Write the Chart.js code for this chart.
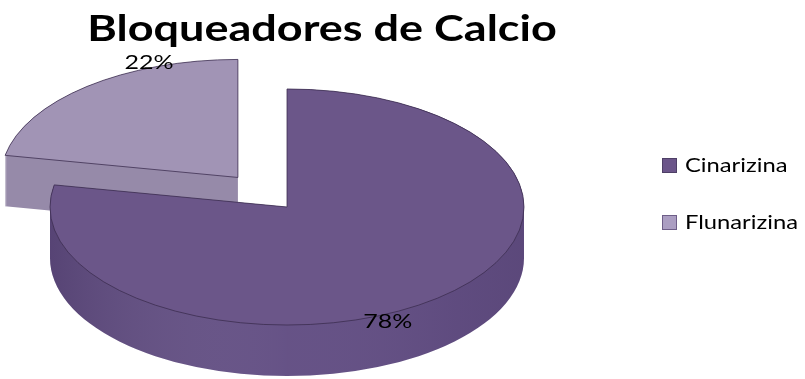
<!DOCTYPE html>
<html>
<head>
<meta charset="utf-8">
<script src="https://cdn.jsdelivr.net/npm/chart.js@4.4.1/dist/chart.umd.min.js"></script>
<style>
  html, body { margin: 0; padding: 0; background: #ffffff; }
  #wrap { width: 805px; height: 379px; position: relative; }
</style>
</head>
<body>
<div id="wrap"><canvas id="c" width="805" height="379"></canvas></div>
<script>
// ---- data ----
const chartTitle = 'Bloqueadores de Calcio';
const categories = ['Cinarizina', 'Flunarizina'];
const shares = [78, 22];

// ---- styling ----
const topColors = ['#6b5689', '#a194b5'];
const sideColors = ['#634f84', '#968aa9'];
const legendColors = ['#6b5589', '#ab9ec2'];
const legendBorders = ['#4e3f66', '#6e5e88'];
const edgeColor = 'rgba(58, 44, 78, 0.85)';

const TILT = 0.498;  // vertical squash of the disc (viewing angle)
const DEPTH = 51;    // disc thickness in px
const TEXT_WIDEN = 1.25; // text is set slightly wide
const FONT_FAMILY = 'Lato, "Open Sans", sans-serif';

// explode vector of an arc, in unsquashed pie space
function explodeOf(el) {
  const off = el.options.offset || 0;
  const mid = (el.startAngle + el.endAngle) / 2;
  return { ox: Math.cos(mid) * off, oy: Math.sin(mid) * off };
}

// add one slice outline (top face lowered by z px on screen) to the current path
function addSlice(ctx, el, z) {
  const { ox, oy } = explodeOf(el);
  ctx.save();
  ctx.translate(el.x + ox, el.y + oy * TILT + z);
  ctx.scale(1, TILT);
  ctx.moveTo(0, 0);
  ctx.arc(0, 0, el.outerRadius, el.startAngle, el.endAngle);
  ctx.closePath();
  ctx.restore();
}

// does the slice reach the front half, where its curved wall shows?
function showsFrontWall(el) {
  const TAU = Math.PI * 2;
  for (let a = el.startAngle; a <= el.endAngle; a += 0.02) {
    const m = ((a % TAU) + TAU) % TAU;
    if (m > 0.01 && m < Math.PI - 0.01) return true;
  }
  return false;
}

function wideText(ctx, text, x, y, align) {
  ctx.save();
  ctx.translate(x, y);
  ctx.scale(TEXT_WIDEN, 1);
  ctx.textAlign = align;
  ctx.fillText(text, 0, 0);
  ctx.restore();
}

const pie3d = {
  id: 'pie3d',
  beforeDatasetsDraw(chart) {
    const ctx = chart.ctx;
    const arcs = chart.getDatasetMeta(0).data;
    // paint back to front
    const depthKey = el => Math.sin((el.startAngle + el.endAngle) / 2) + explodeOf(el).oy / el.outerRadius;
    const order = arcs.map((el, i) => i).sort((a, b) => depthKey(arcs[a]) - depthKey(arcs[b]));
    order.forEach(i => {
      const el = arcs[i];
      const r = el.outerRadius;
      // side walls: union of the face swept down through the thickness
      ctx.beginPath();
      for (let z = 0; z <= DEPTH; z += 1) addSlice(ctx, el, z);
      ctx.fillStyle = sideColors[i];
      ctx.fill('nonzero');
      if (showsFrontWall(el)) {
        // light falls on the middle of the curved wall
        const g = ctx.createLinearGradient(el.x - r, 0, el.x + r, 0);
        g.addColorStop(0, 'rgba(25,12,40,0.17)');
        g.addColorStop(0.5, 'rgba(255,255,255,0.02)');
        g.addColorStop(0.85, 'rgba(25,12,40,0.05)');
        g.addColorStop(1, 'rgba(25,12,40,0.10)');
        ctx.fillStyle = g;
        ctx.fill('nonzero');
      }
      // top face
      ctx.beginPath();
      addSlice(ctx, el, 0);
      ctx.fillStyle = topColors[i];
      ctx.fill();
      ctx.lineWidth = 0.9;
      ctx.strokeStyle = edgeColor;
      ctx.stroke();
    });
    return false;
  },
  afterDraw(chart) {
    const ctx = chart.ctx;
    const arcs = chart.getDatasetMeta(0).data;
    const total = shares.reduce((s, v) => s + v, 0);
    ctx.save();
    ctx.fillStyle = '#000000';

    // percentage labels just past the rim, turned a little clockwise
    ctx.font = '20px ' + FONT_FAMILY;
    ctx.textBaseline = 'middle';
    arcs.forEach((el, i) => {
      const { ox, oy } = explodeOf(el);
      const a = (el.startAngle + el.endAngle) / 2 + 0.30;
      const rr = el.outerRadius * 1.05;
      const x = el.x + ox + Math.cos(a) * rr;
      const y = el.y + (oy + Math.sin(a) * rr) * TILT;
      wideText(ctx, Math.round(shares[i] / total * 100) + '%', x + 6, y, 'center');
    });

    // title
    ctx.font = 'bold 36px ' + FONT_FAMILY;
    ctx.textBaseline = 'alphabetic';
    wideText(ctx, chartTitle, 322, 41, 'center');

    // legend
    ctx.font = '19px ' + FONT_FAMILY;
    ctx.textBaseline = 'middle';
    categories.forEach((name, i) => {
      const y = 166 + i * 57;
      ctx.fillStyle = legendColors[i];
      ctx.fillRect(662.5, y - 7.5, 14, 14);
      ctx.lineWidth = 1;
      ctx.strokeStyle = legendBorders[i];
      ctx.strokeRect(662.5, y - 7.5, 14, 14);
      ctx.fillStyle = '#000000';
      wideText(ctx, name, 685, y, 'left');
    });
    ctx.restore();
  }
};

new Chart(document.getElementById('c'), {
  type: 'pie',
  data: {
    labels: categories,
    datasets: [{
      data: shares,
      backgroundColor: topColors,
      borderWidth: 0,
      offset: [0, 77],
      radius: 237
    }]
  },
  options: {
    responsive: false,
    animation: false,
    rotation: 0,
    layout: { padding: { left: 0, right: 231, top: 35, bottom: 0 } },
    plugins: {
      legend: { display: false },
      title: { display: false },
      tooltip: { enabled: false }
    }
  },
  plugins: [pie3d]
});
</script>
</body>
</html>
